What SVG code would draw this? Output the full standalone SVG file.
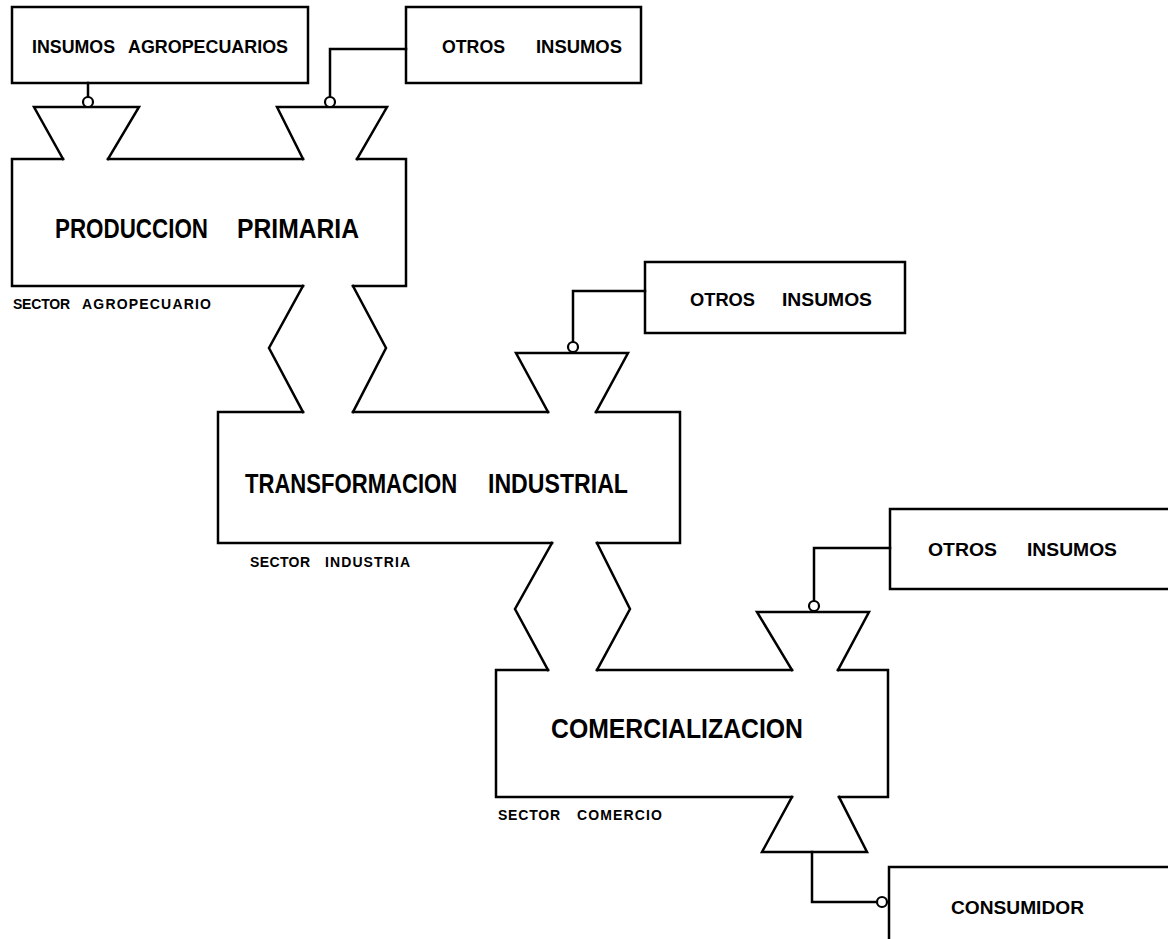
<svg xmlns="http://www.w3.org/2000/svg" width="1168" height="939" viewBox="0 0 1168 939">
<style>
.ln{fill:none;stroke:#000;stroke-width:2.5;stroke-linejoin:miter;stroke-linecap:square}
.box{fill:#fff;stroke:#000;stroke-width:2.5}
.dot{fill:#fff;stroke:#000;stroke-width:2.2}
.big{font-family:"Liberation Sans",Arial,sans-serif;font-weight:bold;font-size:27px;fill:#000}
.mid{font-family:"Liberation Sans",Arial,sans-serif;font-weight:bold;font-size:19px;fill:#000}
.sm{font-family:"Liberation Sans",Arial,sans-serif;font-weight:bold;font-size:14px;fill:#000}
</style>
<rect width="1168" height="939" fill="#fff"/>

<g id="insumos-agropecuarios">
<rect class="box" x="12" y="7" width="296" height="76"/>
<text class="mid" x="32" y="53" textLength="83" lengthAdjust="spacingAndGlyphs">INSUMOS</text>
<text class="mid" x="128" y="53" textLength="160" lengthAdjust="spacingAndGlyphs">AGROPECUARIOS</text>
</g>

<g id="otros-insumos-1">
<rect class="box" x="406" y="7" width="235" height="76"/>
<text class="mid" x="442" y="53" textLength="63" lengthAdjust="spacingAndGlyphs">OTROS</text>
<text class="mid" x="536" y="53" textLength="86" lengthAdjust="spacingAndGlyphs">INSUMOS</text>
</g>

<g id="produccion-primaria">
<path class="ln" d="M63,159 L12,159 L12,286 L303,286 M353,286 L406,286 L406,159 L357,159 M303,159 L108,159"/>
<polyline class="ln" points="63,159 34,107 139,107 108,159"/>
<polyline class="ln" points="303,159 277,107 387,107 357,159"/>
<text class="big" x="55" y="238" textLength="153" lengthAdjust="spacingAndGlyphs">PRODUCCION</text>
<text class="big" x="237" y="238" textLength="122" lengthAdjust="spacingAndGlyphs">PRIMARIA</text>
<text class="sm" x="13" y="309" textLength="57" lengthAdjust="spacing">SECTOR</text>
<text class="sm" x="82" y="309" textLength="129" lengthAdjust="spacing">AGROPECUARIO</text>
</g>

<g id="otros-insumos-2">
<rect class="box" x="645" y="262" width="260" height="71"/>
<text class="mid" x="690" y="306" textLength="65" lengthAdjust="spacingAndGlyphs">OTROS</text>
<text class="mid" x="782" y="306" textLength="90" lengthAdjust="spacingAndGlyphs">INSUMOS</text>
</g>

<g id="transformacion-industrial">
<path class="ln" d="M303,412 L218,412 L218,543 L552,543 M597,543 L680,543 L680,412 L596,412 M548,412 L353,412"/>
<polyline class="ln" points="548,412 516,353 628,353 596,412"/>
<text class="big" transform="translate(245,493) scale(0.818,1)" x="0" y="0">TRANSFORMACION</text>
<text class="big" x="488" y="493" textLength="140" lengthAdjust="spacingAndGlyphs">INDUSTRIAL</text>
<text class="sm" x="250" y="567" textLength="60" lengthAdjust="spacing">SECTOR</text>
<text class="sm" x="325" y="567" textLength="85" lengthAdjust="spacing">INDUSTRIA</text>
</g>

<g id="otros-insumos-3">
<rect class="box" x="890" y="509" width="290" height="80"/>
<text class="mid" x="928" y="556" textLength="69" lengthAdjust="spacingAndGlyphs">OTROS</text>
<text class="mid" x="1027" y="556" textLength="90" lengthAdjust="spacingAndGlyphs">INSUMOS</text>
</g>

<g id="comercializacion">
<path class="ln" d="M548,670 L496,670 L496,797 L792,797 M839,797 L888,797 L888,670 L838,670 M792,670 L597,670"/>
<polyline class="ln" points="792,670 757,612 869,612 838,670"/>
<text class="big" x="551" y="738" textLength="252" lengthAdjust="spacingAndGlyphs">COMERCIALIZACION</text>
<text class="sm" x="498" y="820" textLength="62" lengthAdjust="spacing">SECTOR</text>
<text class="sm" x="577" y="820" textLength="85" lengthAdjust="spacing">COMERCIO</text>
</g>

<g id="consumidor">
<rect class="box" x="889" y="867" width="300" height="100"/>
<text class="mid" x="951" y="914" textLength="133" lengthAdjust="spacingAndGlyphs">CONSUMIDOR</text>
</g>

<g id="connectors">
<polyline class="ln" points="303,286 269,348 303,412"/>
<polyline class="ln" points="353,286 386,348 353,412"/>
<polyline class="ln" points="552,543 515,609 548,670"/>
<polyline class="ln" points="597,543 630,609 597,670"/>
<polyline class="ln" points="792,797 762,852 867,852 839,797"/>
<path class="ln" d="M88,83 L88,97"/>
<circle class="dot" cx="88" cy="102" r="5"/>
<path class="ln" d="M406,49 L330,49 L330,97"/>
<circle class="dot" cx="330" cy="102" r="5"/>
<path class="ln" d="M645,291 L573,291 L573,342"/>
<circle class="dot" cx="573" cy="347" r="5"/>
<path class="ln" d="M890,548 L814,548 L814,601"/>
<circle class="dot" cx="814" cy="606" r="5"/>
<path class="ln" d="M812,852 L812,902 L877,902"/>
<circle class="dot" cx="882" cy="902" r="5"/>
</g>
</svg>
